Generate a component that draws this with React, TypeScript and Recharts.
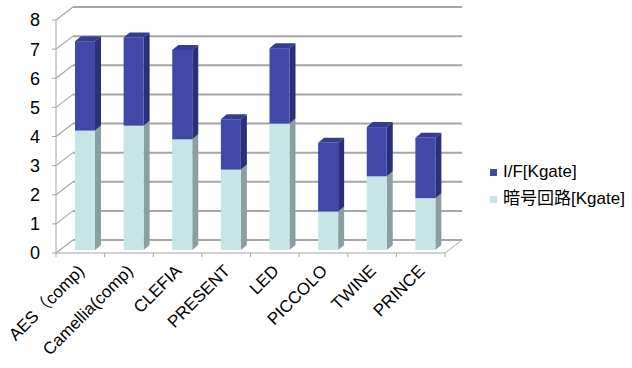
import React from "react";
import { BarChart, Bar, XAxis, YAxis, CartesianGrid, Legend } from "recharts";

const categories = [
  "AES（comp)",
  "Camellia(comp)",
  "CLEFIA",
  "PRESENT",
  "LED",
  "PICCOLO",
  "TWINE",
  "PRINCE",
];
// 暗号回路 (cipher core) and I/F gate counts, in Kgate
const cipherKgate = [4.1, 4.27, 3.8, 2.76, 4.34, 1.32, 2.53, 1.78];
const ifKgate = [3.07, 3.03, 3.07, 1.73, 2.59, 2.36, 1.69, 2.07];
const yTicks = [0, 1, 2, 3, 4, 5, 6, 7, 8];

const seriesNames = { iface: "I/F[Kgate]", cipher: "暗号回路[Kgate]" };

const data = categories.map((name, i) => ({
  name,
  cipher: cipherKgate[i],
  iface: ifKgate[i],
}));

const FONT = '"Liberation Sans", Arial, "Noto Sans CJK JP", sans-serif';
const GRID = "#A6A6A6";

// oblique offsets: back wall, bar front face, bar depth
const WALL_DX = 17;
const WALL_DY = -13;
const BAR_DX = 5;
const BAR_DY = -3;
const SIDE_DX = 6;
const SIDE_DY = -5;

const colors = {
  iface: { front: "#4148A8", side: "#2B2F77", top: "#363C92" },
  cipher: { front: "#C5E5E6", side: "#8C9EA2", top: "#D8EEEF" },
};

function makeBox(c: { front: string; side: string; top: string }) {
  return (props: any) => {
    const { x, y, width, height } = props;
    if (height == null || height <= 0) return <g />;
    const fx = x + BAR_DX;
    const fy = y + BAR_DY;
    const r = fx + width;
    return (
      <g>
        <polygon
          points={`${fx},${fy} ${r},${fy} ${r + SIDE_DX},${fy + SIDE_DY} ${fx + SIDE_DX},${fy + SIDE_DY}`}
          fill={c.top}
        />
        <polygon
          points={`${r},${fy} ${r + SIDE_DX},${fy + SIDE_DY} ${r + SIDE_DX},${fy + height + SIDE_DY} ${r},${fy + height}`}
          fill={c.side}
        />
        <rect x={fx} y={fy} width={width} height={height} fill={c.front} />
      </g>
    );
  };
}

// back-wall gridline plus its diagonal across the left wall
function WallLine(props: any) {
  const { x1, y1, x2, y2 } = props;
  return (
    <g>
      <line x1={x1} y1={y1} x2={x1 + WALL_DX} y2={y1 + WALL_DY} stroke={GRID} strokeWidth={1.2} />
      <line
        x1={x1 + WALL_DX}
        y1={y1 + WALL_DY}
        x2={x2 + WALL_DX}
        y2={y2 + WALL_DY}
        stroke={GRID}
        strokeWidth={2}
      />
    </g>
  );
}

function CategoryTick(props: any) {
  const { x, y, payload, index, width, visibleTicksCount } = props;
  const count = visibleTicksCount || categories.length;
  const band = width / count;
  const left = x - band / 2;
  const right = x + band / 2;
  const last = index === count - 1;
  return (
    <g>
      <line x1={left} y1={y} x2={left} y2={y + 4} stroke={GRID} />
      {last && (
        <>
          <line x1={right} y1={y} x2={right} y2={y + 4} stroke={GRID} />
          <line x1={right} y1={y} x2={right + WALL_DX} y2={y + WALL_DY} stroke={GRID} />
        </>
      )}
      <text
        x={x + 5}
        y={y + 19}
        textAnchor="end"
        transform={`rotate(-45 ${x + 5} ${y + 19})`}
        fontSize={17}
        fontFamily={FONT}
        fill="#000"
      >
        {payload.value}
      </text>
    </g>
  );
}

function LegendBox() {
  const rows = [
    { key: "iface", color: colors.iface.front },
    { key: "cipher", color: colors.cipher.front },
  ] as const;
  return (
    <div style={{ fontFamily: FONT, fontSize: 17, color: "#000", lineHeight: "20px" }}>
      {rows.map((r) => (
        <div key={r.key} style={{ height: 27, display: "flex", alignItems: "center" }}>
          <span
            style={{ width: 7, height: 7, background: r.color, marginRight: 6, marginTop: 1 }}
          />
          <span>{seriesNames[r.key]}</span>
        </div>
      ))}
    </div>
  );
}

export default function App() {
  return (
    <div style={{ position: "absolute", left: 0, top: 0, background: "#fff" }}>
      <BarChart
        width={632}
        height={368}
        data={data}
        margin={{ top: 20, right: 187, bottom: 15, left: 0 }}
        barSize={20}
      >
        <CartesianGrid vertical={false} horizontal={(p: any) => <WallLine {...p} />} />
        <XAxis
          dataKey="name"
          height={100}
          interval={0}
          tickLine={false}
          tickSize={0}
          tickMargin={0}
          axisLine={{ stroke: GRID }}
          tick={<CategoryTick />}
        />
        <YAxis
          width={56}
          domain={[0, 8]}
          ticks={yTicks}
          interval={0}
          axisLine={{ stroke: GRID }}
          tickLine={{ stroke: GRID }}
          tickSize={4}
          tickMargin={12}
          tick={{ fontSize: 18, fontFamily: FONT, fill: "#000" }}
        />
        <Legend
          layout="vertical"
          align="center"
          verticalAlign="middle"
          wrapperStyle={{ left: 490, top: 158, width: 142 }}
          content={<LegendBox />}
        />
        <Bar
          dataKey="cipher"
          stackId="a"
          isAnimationActive={false}
          fill={colors.cipher.front}
          shape={makeBox(colors.cipher)}
        />
        <Bar
          dataKey="iface"
          stackId="a"
          isAnimationActive={false}
          fill={colors.iface.front}
          shape={makeBox(colors.iface)}
        />
      </BarChart>
    </div>
  );
}
